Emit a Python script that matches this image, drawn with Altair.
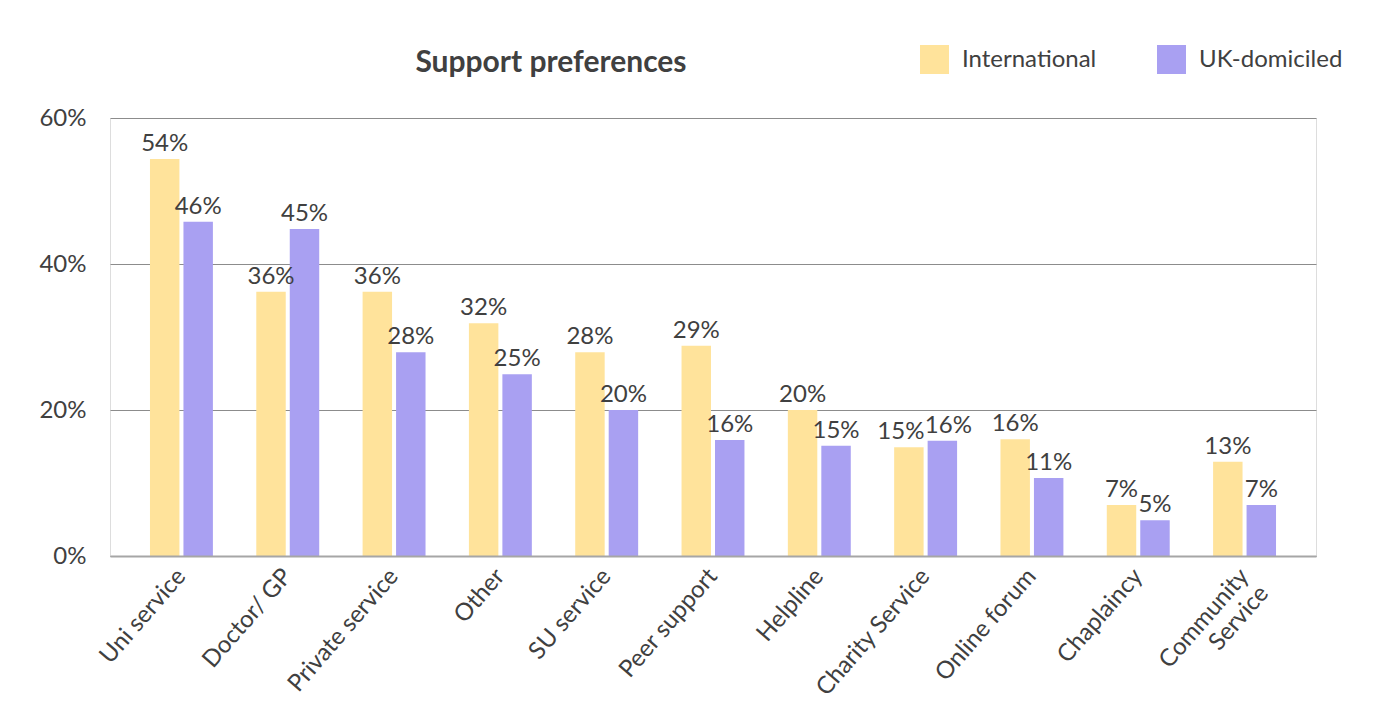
import altair as alt
import pandas as pd

categories = ["Uni service", "Doctor/ GP", "Private service", "Other", "SU service",
              "Peer support", "Helpline", "Charity Service", "Online forum",
              "Chaplaincy", "Community Service"]
series_names = ["International", "UK-domiciled"]
intl_values = [0.544, 0.362, 0.362, 0.319, 0.279, 0.288, 0.200, 0.149, 0.160, 0.070, 0.129]
uk_values = [0.458, 0.448, 0.279, 0.249, 0.200, 0.159, 0.151, 0.158, 0.107, 0.049, 0.070]
colors = ["#FFE39B", "#A9A0F2"]
y_ticks = [0, 0.2, 0.4, 0.6]

rows = []
for c, a, b in zip(categories, intl_values, uk_values):
    close = abs(a - b) < 0.015
    rows.append({"category": c, "series": series_names[0], "value": a, "close": close})
    rows.append({"category": c, "series": series_names[1], "value": b, "close": close})
df = pd.DataFrame(rows)

FONT = "Lato"
TXT = "#404040"
FS = 24

x_enc = alt.X("category:N", sort=categories,
              scale=alt.Scale(paddingInner=0.408, paddingOuter=0.376),
              axis=alt.Axis(title=None, labelAngle=-49, labelAlign="right",
                            labelBaseline="middle", labelFontSize=FS, labelFont=FONT,
                            labelColor=TXT, labelPadding=16, labelLimit=400,
                            ticks=False, grid=False, domainColor="#A6A6A6", domainWidth=2,
                            zindex=1,
                            labelExpr="datum.label == 'Community Service' ? ['Community', 'Service'] : datum.label"))
xoff_enc = alt.XOffset("series:N", sort=series_names,
                       scale=alt.Scale(paddingInner=0.12, paddingOuter=0))
y_enc = alt.Y("value:Q", scale=alt.Scale(domain=[0, 0.6], nice=False),
              axis=alt.Axis(title=None, values=y_ticks, format=".0%", grid=True,
                            gridColor="#8C8C8C", gridWidth=1, domain=False, ticks=False,
                            labelFontSize=FS, labelFont=FONT, labelColor=TXT,
                            labelPadding=24))
color_enc = alt.Color("series:N", sort=series_names,
                      scale=alt.Scale(domain=series_names, range=colors),
                      legend=alt.Legend(title=None, orient="none", direction="horizontal",
                                        legendX=810, legendY=-73, symbolType="square",
                                        symbolSize=841, symbolStrokeWidth=0,
                                        symbolOpacity=1,
                                        labelFontSize=FS, labelFont=FONT, labelColor=TXT,
                                        labelOffset=13, columnPadding=60, padding=0))

bars = alt.Chart(df).mark_bar(opacity=1).encode(
    x=x_enc, xOffset=xoff_enc, y=y_enc, color=color_enc)

def text_layer(filt, dx):
    return alt.Chart(df).transform_filter(filt).mark_text(
        baseline="bottom", dy=-3, dx=dx, fontSize=FS, font=FONT, color=TXT).encode(
        x=alt.X("category:N", sort=categories),
        xOffset=alt.XOffset("series:N", sort=series_names),
        y="value:Q",
        text=alt.Text("value:Q", format=".0%"))

labels_normal = text_layer("!datum.close", 0)
labels_intl_close = text_layer(f"datum.close && datum.series == '{series_names[0]}'", -8)
labels_uk_close = text_layer(f"datum.close && datum.series == '{series_names[1]}'", 6)

chart = alt.layer(bars, labels_normal, labels_intl_close, labels_uk_close).properties(
    width=1206, height=438,
    title=alt.TitleParams("Support preferences", fontSize=30, font=FONT,
                          fontWeight="bold", color=TXT, anchor="middle",
                          dx=-162, offset=0, dy=33),
    autosize=alt.AutoSizeParams(type="none"),
    padding={"left": 110, "top": 118, "right": 59, "bottom": 158},
).configure_view(stroke=None, strokeWidth=0, fill="white").configure(background="white")

chart.save("out.html", embed_options={"renderer": "svg", "actions": False})
